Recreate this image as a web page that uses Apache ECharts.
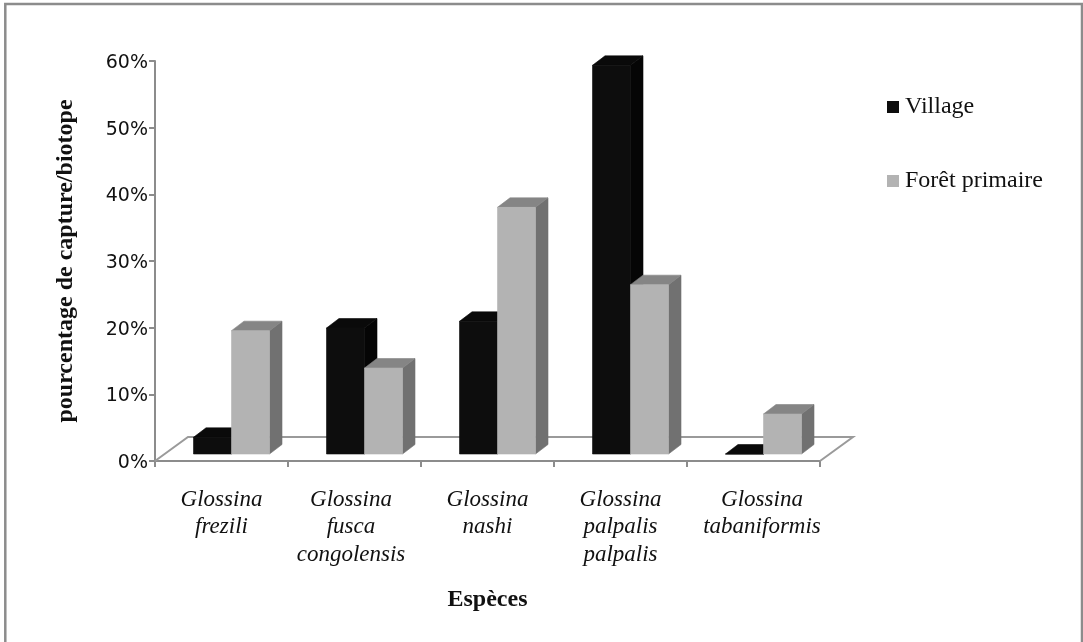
<!DOCTYPE html>
<html>
<head>
<meta charset="utf-8">
<script src="https://cdn.jsdelivr.net/npm/echarts@6/dist/echarts.min.js"></script>
<style>html,body{margin:0;padding:0;background:#fff}#c{width:1083px;height:642px}</style>
</head>
<body>
<div id="c"></div>
<script>
const categories = ['Glossina\nfrezili','Glossina\nfusca\ncongolensis','Glossina\nnashi','Glossina\npalpalis\npalpalis','Glossina\ntabaniformis'];
const village = [2.5, 18.9, 19.9, 58.3, 0];
const foret = [18.5, 12.9, 37, 25.4, 6];
const yTicks = {min:0, max:60, interval:10};

const SERIF = '"Liberation Serif","Times New Roman",serif';
const chart = echarts.init(document.getElementById('c'), null, {renderer:'canvas'});

const BAR_W = 38, DX = 12.5, DY = 9.5, BASE_DX = 10, BASE_DY = 7;
function face(fill){ return {fill:fill, stroke:fill, lineWidth:0.6}; }
function barRenderer(side, colors){
  return function(params, api){
    const i = api.value(0), v = api.value(1);
    const b = api.coord([i,0]), t = api.coord([i,v]);
    const x0 = b[0] + BASE_DX + (side < 0 ? -BAR_W : 0), x1 = x0 + BAR_W;
    const yb = b[1] - BASE_DY, yt = t[1] - BASE_DY;
    return {type:'group', children:[
      {type:'polygon', shape:{points:[[x1,yb],[x1+DX,yb-DY],[x1+DX,yt-DY],[x1,yt]]}, style:face(colors.side)},
      {type:'polygon', shape:{points:[[x0,yt],[x1,yt],[x1+DX,yt-DY],[x0+DX,yt-DY]]}, style:face(colors.top)},
      {type:'rect', shape:{x:x0,y:yt,width:BAR_W,height:yb-yt}, style:face(colors.front)}
    ]};
  };
}
function floorRenderer(params, api){
  const c = params.coordSys, x0=c.x, x1=c.x+c.width, y=c.y+c.height;
  const dx=33, dy=24;
  return {type:'polyline', shape:{points:[[x0,y],[x0+dx,y-dy],[x1+dx,y-dy],[x1,y]]},
    style:{fill:null, stroke:'#9a9a9a', lineWidth:2}};
}
const labelBase = {fontFamily:SERIF, fontStyle:'italic', fontSize:23, lineHeight:27.5, color:'#111'};
const yLabelBase = {color:'#111', fontFamily:'"DejaVu Sans"', fontSize:19};
chart.setOption({
  animation:false,
  backgroundColor:'#fff',
  grid:{left:155, top:61, width:665, height:400, containLabel:false},
  legend:{
    data:['Village','Forêt primaire'], orient:'vertical', left:887, top:95, padding:0,
    itemWidth:12, itemHeight:12, itemGap:50, icon:'rect',
    textStyle:{fontFamily:SERIF, fontSize:24, color:'#111', padding:[0,0,0,1]}
  },
  xAxis:{
    type:'category', data:categories,
    axisLine:{lineStyle:{color:'#8c8c8c',width:2}},
    axisTick:{show:true, length:6, lineStyle:{color:'#8c8c8c',width:2}},
    axisLabel:{
      interval:0, margin:25, hideOverlap:false, ...labelBase,
      formatter:function(value, index){
        const key = index===4 ? 'r' : index===1 ? 'l' : 'n';
        return value.split('\n').map(s=>'{'+key+'|'+s+'}').join('\n');
      },
      rich:{
        n:{...labelBase},
        r:{...labelBase, padding:[0,0,0,17]},
        l:{...labelBase, padding:[0,7,0,0]}
      }
    },
    name:'Espèces', nameLocation:'middle', nameGap:127,
    nameTextStyle:{fontFamily:SERIF, fontWeight:'bold', fontSize:24, color:'#111'}
  },
  yAxis:{
    type:'value', min:yTicks.min, max:yTicks.max, interval:yTicks.interval,
    axisLine:{show:true, lineStyle:{color:'#8c8c8c',width:2}},
    axisTick:{show:true, length:6, lineStyle:{color:'#8c8c8c',width:2}},
    splitLine:{show:false},
    axisLabel:{formatter:'{v|{value}%}', margin:7, ...yLabelBase, rich:{v:{...yLabelBase, padding:[4,0,0,0]}}},
    name:'pourcentage de capture/biotope', nameLocation:'middle', nameGap:77, nameRotate:90,
    nameTextStyle:{fontFamily:SERIF, fontWeight:'bold', fontSize:24, color:'#111'}
  },
  series:[
    {type:'custom', name:'floor', z:1, silent:true, renderItem:floorRenderer, data:[[0,0]], encode:{x:0,y:1}},
    {type:'custom', name:'Village', z:2, itemStyle:{color:'#0d0d0d'},
      renderItem:barRenderer(-1,{front:'#0d0d0d',top:'#0a0a0a',side:'#050505'}),
      data:village.map((v,i)=>[i,v]), encode:{x:0,y:1}},
    {type:'custom', name:'Forêt primaire', z:3, itemStyle:{color:'#b3b3b3'},
      renderItem:barRenderer(1,{front:'#b3b3b3',top:'#858585',side:'#717171'}),
      data:foret.map((v,i)=>[i,v]), encode:{x:0,y:1}}
  ],
  graphic:[{type:'polyline', silent:true, shape:{points:[[5.3,642],[5.3,4],[1082,4],[1082,642]]}, style:{fill:null,stroke:'#8c8c8c',lineWidth:2.5}}]
});
</script>
</body>
</html>
